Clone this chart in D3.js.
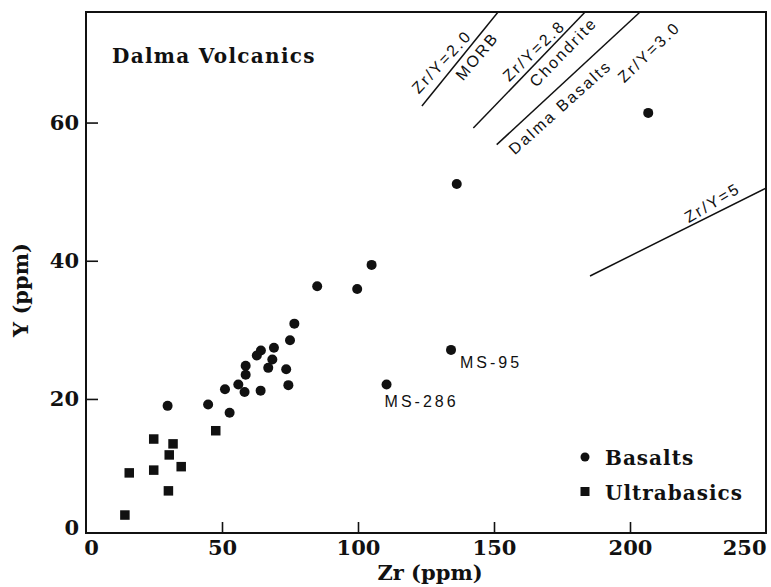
<!DOCTYPE html>
<html>
<head>
<meta charset="utf-8">
<script src="https://cdn.jsdelivr.net/npm/d3@7"></script>
<style>
  html, body { margin: 0; padding: 0; background: #fff; }
  svg { display: block; }
  .serif { font-family: "DejaVu Serif", serif; font-weight: bold; fill: #111; }
  .sans { font-family: "Liberation Sans", Arial, sans-serif; fill: #111; }
</style>
</head>
<body>
<svg id="chart" width="771" height="587"></svg>
<script>
// Basalts: Zr (ppm), Y (ppm)
const basaltZr = [85.0, 76.6, 75.0, 69.1, 64.3, 62.8, 68.5, 67.0, 58.7, 58.7, 73.6, 56.0, 51.1, 58.3, 64.2, 74.4, 30.0, 44.9, 52.8, 99.7, 105.0, 136.3, 206.7, 134.2, 110.5];
const basaltY  = [36.3, 30.9, 28.5, 27.4, 27.0, 26.3, 25.7, 24.5, 24.8, 23.5, 24.3, 22.1, 21.4, 21.0, 21.2, 22.0, 19.0, 19.2, 18.0, 35.9, 39.4, 51.1, 61.4, 27.1, 22.1];

// Ultrabasics: Zr (ppm), Y (ppm)
const ultraZr = [47.7, 24.9, 32.0, 30.6, 35.0, 15.9, 24.9, 30.3, 14.3];
const ultraY  = [15.4, 14.2, 13.5, 11.9, 10.2, 9.3, 9.7, 6.7, 3.2];

// Labelled samples
const sampleNames = ["MS-95", "MS-286"];
const sampleZr = [134.2, 110.5];
const sampleY  = [27.1, 22.1];

// Reference Zr/Y lines, as drawn: start and end points in ppm
const refStartZr = [123.5, 142.4, 151.0, 185.3];
const refStartY  = [62.4, 59.2, 56.8, 37.8];
const refEndZr   = [151.5, 183.5, 203.7, 250.0];
const refEndY    = [76.0, 76.0, 76.0, 50.5];

// Annotations along the reference lines
const refLabelText  = ["Zr/Y=2.0", "MORB", "Zr/Y=2.8", "Chondrite", "Dalma Basalts", "Zr/Y=3.0", "Zr/Y=5"];
const refLabelZr    = [130.8, 143.8, 164.7, 175.5, 174.3, 207.0, 230.3];
const refLabelY     = [68.8, 69.6, 70.4, 70.2, 62.2, 70.2, 48.4];
const refLabelAngle = [-47, -50, -44, -46, -42, -44, -31];

// Axis ticks
const xTicks = [0, 50, 100, 150, 200, 250];
const yTicks = [0, 20, 40, 60];

const svg = d3.select("#chart");
const x = d3.scaleLinear().domain([0, 250]).range([86, 766]);
const y = d3.scaleLinear().domain([0.6, 76]).range([533, 12]);

const ink = "#111";

// Frame
svg.append("rect")
  .attr("x", x(0)).attr("y", y(76))
  .attr("width", x(250) - x(0)).attr("height", y(0.6) - y(76))
  .attr("fill", "none").attr("stroke", ink).attr("stroke-width", 2);

// X axis (ticks point inward)
const gx = svg.append("g")
  .attr("transform", `translate(0,${y(0.6)})`)
  .call(d3.axisBottom(x).tickValues(xTicks).tickSizeInner(-11).tickSizeOuter(0).tickPadding(7).tickFormat(d3.format("d")));
gx.select(".domain").remove();
gx.selectAll(".tick line").attr("stroke", ink).attr("stroke-width", 1.6)
  .filter(d => d === 0 || d === 250).remove();
gx.selectAll(".tick text").attr("class", "serif").attr("font-size", 21);
gx.selectAll(".tick text").filter(d => d === 0).attr("dx", 5);
gx.selectAll(".tick text").filter(d => d === 250).attr("text-anchor", "end").attr("dx", 0);

// Y axis (ticks point inward)
const gy = svg.append("g")
  .attr("transform", `translate(${x(0)},0)`)
  .call(d3.axisLeft(y).tickValues(yTicks).tickSizeInner(-12).tickSizeOuter(0).tickPadding(7).tickFormat(d3.format("d")));
gy.select(".domain").remove();
gy.selectAll(".tick line").attr("stroke", ink).attr("stroke-width", 1.6)
  .filter(d => d === 0).remove();
gy.selectAll(".tick text").attr("class", "serif").attr("font-size", 21);
gy.selectAll(".tick text").filter(d => d === 0).attr("dy", "-0.12em");

// Axis titles
svg.append("text").attr("class", "serif").attr("font-size", 21)
  .attr("x", 430).attr("y", 580).attr("text-anchor", "middle")
  .text("Zr (ppm)");
svg.append("text").attr("class", "serif").attr("font-size", 21)
  .attr("transform", "translate(28,290) rotate(-90)").attr("text-anchor", "middle")
  .text("Y (ppm)");

// Plot title
svg.append("text").attr("class", "serif").attr("font-size", 20)
  .attr("letter-spacing", 1.3)
  .attr("x", 112).attr("y", 63)
  .text("Dalma Volcanics");

// Reference lines
svg.append("g").selectAll("line")
  .data(d3.range(refStartZr.length))
  .join("line")
  .attr("x1", i => x(refStartZr[i])).attr("y1", i => y(refStartY[i]))
  .attr("x2", i => x(refEndZr[i])).attr("y2", i => y(refEndY[i]))
  .attr("stroke", ink).attr("stroke-width", 1.5);

svg.append("g").selectAll("text")
  .data(d3.range(refLabelText.length))
  .join("text")
  .attr("class", "sans").attr("font-size", 16).attr("letter-spacing", 2.2)
  .attr("text-anchor", "middle").attr("dominant-baseline", "central")
  .attr("transform", i => `translate(${x(refLabelZr[i])},${y(refLabelY[i])}) rotate(${refLabelAngle[i]})`)
  .text(i => refLabelText[i]);

// Basalts
svg.append("g").selectAll("circle")
  .data(d3.range(basaltZr.length))
  .join("circle")
  .attr("cx", i => x(basaltZr[i])).attr("cy", i => y(basaltY[i]))
  .attr("r", 5).attr("fill", ink);

// Ultrabasics
const sq = 9.5;
svg.append("g").selectAll("rect")
  .data(d3.range(ultraZr.length))
  .join("rect")
  .attr("x", i => x(ultraZr[i]) - sq / 2).attr("y", i => y(ultraY[i]) - sq / 2)
  .attr("width", sq).attr("height", sq).attr("fill", ink);

// Sample labels
svg.append("g").selectAll("text")
  .data(d3.range(sampleNames.length))
  .join("text")
  .attr("class", "sans").attr("font-size", 16).attr("letter-spacing", 3)
  .attr("x", i => x(sampleZr[i]) + (i === 0 ? 9 : -2))
  .attr("y", i => y(sampleY[i]) + (i === 0 ? 18 : 23))
  .text(i => sampleNames[i]);

// Legend
const legend = svg.append("g").attr("transform", "translate(585,457)");
legend.append("circle").attr("cx", 0).attr("cy", 0).attr("r", 4.5).attr("fill", ink);
legend.append("text").attr("class", "serif").attr("font-size", 20).attr("letter-spacing", 1)
  .attr("x", 20).attr("y", 8).text("Basalts");
legend.append("rect").attr("x", -4.5).attr("y", 30).attr("width", 9).attr("height", 9).attr("fill", ink);
legend.append("text").attr("class", "serif").attr("font-size", 20).attr("letter-spacing", 1)
  .attr("x", 20).attr("y", 43).text("Ultrabasics");
</script>
</body>
</html>
